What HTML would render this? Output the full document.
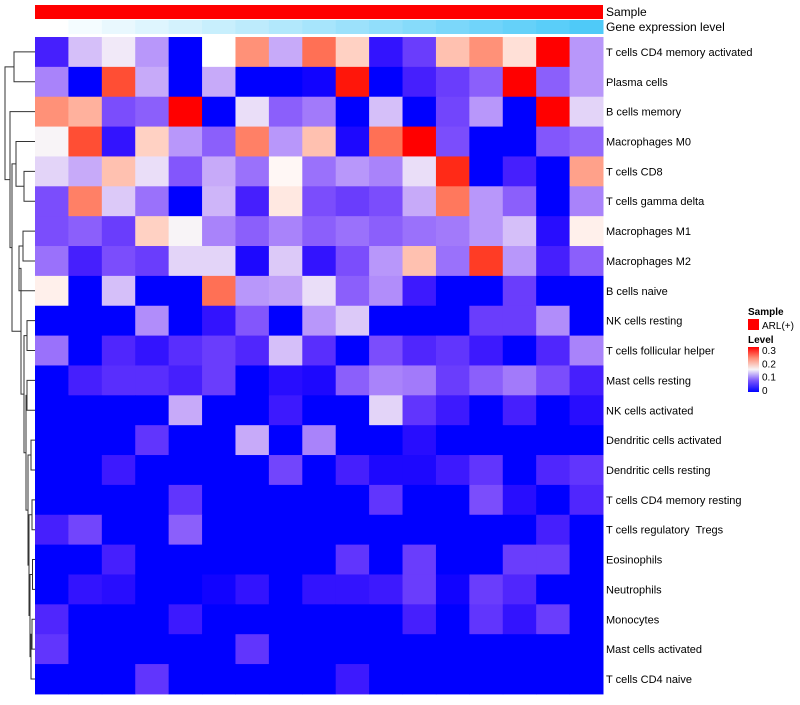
<!DOCTYPE html>
<html><head><meta charset="utf-8"><style>
body{margin:0;background:#fff;}
svg text{font-family:"Liberation Sans",sans-serif;white-space:pre;}
</style></head><body>
<svg id="chart" width="800" height="700" xmlns="http://www.w3.org/2000/svg"></svg>
<script>
const rowLabels=["T cells CD4 memory activated","Plasma cells","B cells memory","Macrophages M0","T cells CD8","T cells gamma delta","Macrophages M1","Macrophages M2","B cells naive","NK cells resting","T cells follicular helper","Mast cells resting","NK cells activated","Dendritic cells activated","Dendritic cells resting","T cells CD4 memory resting","T cells regulatory  Tregs","Eosinophils","Neutrophils","Monocytes","Mast cells activated","T cells CD4 naive"];
const r0=[0.03,0.12,0.14,0.10,0,0.15,0.22,0.11,0.24,0.18,0.02,0.05,0.19,0.22,0.17,0.3,0.10];
const r1=[0.09,0,0.26,0.11,0,0.11,0,0,0.005,0.29,0,0.03,0.05,0.07,0.3,0.07,0.10];
const r2=[0.22,0.20,0.06,0.07,0.3,0,0.135,0.07,0.085,0,0.12,0,0.055,0.10,0,0.3,0.13];
const r3=[0.145,0.26,0.02,0.18,0.10,0.07,0.23,0.10,0.19,0.01,0.24,0.3,0.06,0,0,0.065,0.075];
const r4=[0.13,0.11,0.19,0.135,0.065,0.11,0.08,0.155,0.08,0.10,0.09,0.135,0.28,0,0.03,0,0.21];
const r5=[0.06,0.23,0.125,0.08,0,0.115,0.03,0.165,0.06,0.05,0.06,0.11,0.235,0.10,0.07,0,0.09];
const r6=[0.06,0.07,0.05,0.18,0.145,0.09,0.07,0.09,0.07,0.08,0.07,0.08,0.085,0.10,0.12,0.015,0.16];
const r7=[0.08,0.03,0.06,0.05,0.13,0.13,0.01,0.125,0.02,0.06,0.10,0.19,0.08,0.27,0.10,0.03,0.07];
const r8=[0.16,0,0.12,0,0,0.24,0.10,0.105,0.135,0.07,0.095,0.025,0,0,0.05,0,0];
const r9=[0,0,0,0.095,0,0.02,0.065,0,0.10,0.125,0,0,0,0.05,0.05,0.095,0];
const r10=[0.08,0,0.035,0.02,0.04,0.05,0.035,0.12,0.04,0,0.06,0.035,0.045,0.025,0,0.035,0.09];
const r11=[0,0.03,0.04,0.04,0.03,0.05,0,0.015,0.01,0.07,0.09,0.085,0.05,0.07,0.085,0.06,0.03];
const r12=[0,0,0,0,0.11,0,0,0.025,0,0,0.13,0.045,0.025,0,0.03,0,0.015];
const r13=[0,0,0,0.045,0,0,0.11,0,0.09,0,0,0.015,0,0,0,0,0];
const r14=[0,0,0.025,0,0,0,0,0.055,0,0.03,0.01,0.01,0.025,0.045,0,0.035,0.045];
const r15=[0,0,0,0,0.045,0,0,0,0,0,0.045,0,0,0.06,0.015,0,0.035];
const r16=[0.03,0.055,0,0,0.07,0,0,0,0,0,0,0,0,0,0,0.03,0];
const r17=[0,0,0.03,0,0,0,0,0,0,0.045,0,0.05,0,0,0.05,0.05,0];
const r18=[0,0.02,0.015,0,0,0.005,0.02,0,0.02,0.02,0.025,0.05,0.005,0.05,0.035,0,0];
const r19=[0.035,0,0,0,0.025,0,0,0,0,0,0,0.03,0,0.045,0.02,0.05,0];
const r20=[0.045,0,0,0,0,0,0.045,0,0,0,0,0,0,0,0,0,0];
const r21=[0,0,0,0.045,0,0,0,0,0,0.025,0,0,0,0,0,0,0];
const values=[r0,r1,r2,r3,r4,r5,r6,r7,r8,r9,r10,r11,r12,r13,r14,r15,r16,r17,r18,r19,r20,r21];
const geneLevel=[0,0.06,0.12,0.18,0.24,0.3,0.36,0.42,0.48,0.54,0.6,0.66,0.72,0.78,0.84,0.9,0.96];

const NS="http://www.w3.org/2000/svg";
const svg=document.getElementById('chart');
const X0=35,X1=603,Y0=37,RH=29.86;
const nC=17,CW=(X1-X0)/nC;
function xPos(j){return X0+j*CW;}
function yPos(i){return Y0+i*RH;}
function mk(t,a){const e=document.createElementNS(NS,t);for(const k in a)e.setAttribute(k,a[k]);svg.appendChild(e);return e;}
function col(v){let t=Math.max(0,Math.min(1,v/0.3));let r,g,b;
 if(t<0.5){const u=t/0.5;r=255*Math.pow(u,0.8);g=255*Math.pow(u,1.3);b=255-8*u;}
 else{const u=(t-0.5)/0.5;r=255;g=255*Math.pow(1-u,0.9);b=255*Math.pow(1-u,1.2);}
 return `rgb(${Math.round(r)},${Math.round(g)},${Math.round(b)})`;}
function gcol(v){const r=Math.round(255+(72-255)*v),g=Math.round(255+(200-255)*v),b=Math.round(255+(248-255)*v);return `rgb(${r},${g},${b})`;}

const sb=mk('rect',{x:X0,y:5,width:X1-X0,height:14,fill:'#ff0000'});


geneLevel.forEach((v,j)=>{const r=mk('rect',{x:xPos(j),y:20,width:CW+0.5,height:14,fill:gcol(v)});
 
 });
const t1=mk('text',{x:606,y:16,'font-size':12});t1.textContent='Sample';


const t2=mk('text',{x:606,y:31,'font-size':12});t2.textContent='Gene expression level';



values.forEach((row,i)=>{row.forEach((v,j)=>{
 const r=mk('rect',{x:xPos(j),y:yPos(i),width:CW+0.5,height:RH+0.5,fill:col(v)});
 
 });
 const tx=mk('text',{x:606,y:yPos(i)+RH/2+4,'font-size':11});tx.textContent=rowLabels[i];
 
 
});

const merges=[[0,1,14],[4,5,24],[3,'n1',16],[6,7,23],['n3',8,19],[9,10,27],[11,12,27],[13,14,31],[15,16,32],[17,18,32.5],[19,20,32],['n10',21,31],['n9','n11',30],['n8','n12',29],['n7','n13',28],['n6','n14',26],['n5','n15',24],['n4','n16',21],['n2','n17',12],[2,'n18',10],['n0','n19',5]];
const nodes=[];
function get(k){if(typeof k==='number')return {x:X0,y:yPos(k)+RH/2};return nodes[+k.slice(1)];}
const dg=document.createElementNS(NS,'g');dg.setAttribute('stroke','#333');dg.setAttribute('fill','none');


svg.appendChild(dg);
merges.forEach(m=>{const a=get(m[0]),b=get(m[1]),h=m[2];
 const p=document.createElementNS(NS,'path');
 p.setAttribute('d',`M${a.x},${a.y}H${h}V${b.y}H${b.x}`);dg.appendChild(p);
 nodes.push({x:h,y:(a.y+b.y)/2});});

const lt=mk('text',{x:748,y:315,'font-size':10,'font-weight':'bold'});lt.textContent='Sample';


const lr=mk('rect',{x:748,y:319,width:11,height:11,fill:'#ff0000'});


const lx=mk('text',{x:762,y:329,'font-size':10});lx.textContent='ARL(+)';


const lv=mk('text',{x:748,y:343,'font-size':10,'font-weight':'bold'});lv.textContent='Level';


const defs=mk('defs',{});
defs.innerHTML='<linearGradient id="lg" x1="0" y1="1" x2="0" y2="0"><stop offset="0" stop-color="#0000ff"/><stop offset="0.25" stop-color="#7a55fb"/><stop offset="0.5" stop-color="#f7f5f7"/><stop offset="0.75" stop-color="#ff8f78"/><stop offset="1" stop-color="#ff0000"/></linearGradient>';
const cb=mk('rect',{x:748,y:347,width:11,height:45,fill:'url(#lg)'});


['0.3','0.2','0.1','0'].forEach((s,k)=>{const t=mk('text',{x:762,y:354+k*13.3,'font-size':10});t.textContent=s;
 
 });
</script>
</body></html>
